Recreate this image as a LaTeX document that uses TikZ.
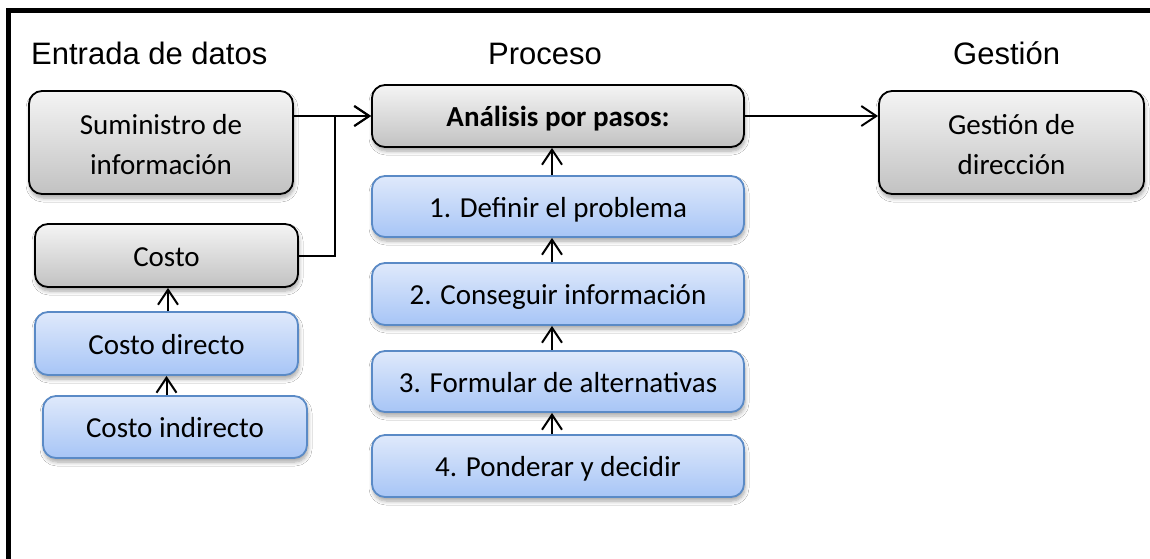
\documentclass[tikz,border=0pt]{standalone}
\usepackage{fontspec}
\setmainfont{Carlito}
\newfontfamily\headfont{Liberation Sans}
\usetikzlibrary{shadows,shadows.blur,arrows.meta}
\definecolor{graytop}{HTML}{F4F4F4}
\definecolor{graybot}{HTML}{C2C2C2}
\definecolor{bluetop}{HTML}{DFE9FB}
\definecolor{bluebot}{HTML}{A7C5F6}
\definecolor{blueline}{HTML}{5A8AC6}
\newcommand{\boxstrut}{\rule[-9pt]{0pt}{39pt}}
\newcommand{\twolines}[2]{\begin{tabular}{@{}c@{}}\rule{0pt}{35pt}#1\\#2\end{tabular}}
\tikzset{
  boxbase/.style={rounded corners=13pt, inner sep=0pt,
    font=\fontsize{29}{40}\selectfont,
    blur shadow={shadow xshift=1pt, shadow yshift=-4pt, shadow blur steps=6, shadow blur radius=4pt, shadow opacity=35}},
  oneline/.style={execute at begin node=\boxstrut, execute at end node=\boxstrut},
  graybox/.style={boxbase, draw=black, line width=1.8pt, top color=graytop, bottom color=graybot},
  bluebox/.style={boxbase, oneline, draw=blueline, line width=1.8pt, top color=bluetop, bottom color=bluebot},
  header/.style={font=\headfont\fontsize{31}{36}\selectfont, anchor=base west, inner sep=0pt},
  arr/.style={line width=2pt, -{Straight Barb[length=15pt,width=20pt,line width=2pt]}},
  frameline/.style={line width=5pt, line join=miter}
}
\begin{document}
\begin{tikzpicture}[x=1pt,y=-1pt]
\useasboundingbox[fill=white] (0,0) rectangle (1150,558);
\draw[frameline] (8,560) -- (8,10.5) -- (1152,10.5);

\node[header] (h1) at (31,64) {Entrada de datos};
\node[header] (h2) at (488,64) {Proceso};
\node[header] (h3) at (953,64) {Gestión};

\node[graybox, minimum width=264pt, minimum height=103pt] (sum) at (161,142.5) {\twolines{Suministro de}{información}};
\node[graybox, oneline, minimum width=263pt, minimum height=63pt] (costo) at (166.5,255.5) {Costo};
\node[bluebox, minimum width=263pt, minimum height=63pt] (dir) at (166.5,343.5) {Costo directo};
\node[bluebox, minimum width=264pt, minimum height=62pt] (ind) at (175,427) {Costo indirecto};

\node[graybox, oneline, minimum width=372pt, minimum height=62pt, font=\fontsize{29}{40}\selectfont\bfseries] (ana) at (558,116) {Análisis por pasos:};
\node[bluebox, minimum width=372pt, minimum height=61pt] (p1) at (558,206.5) {1. Definir el problema};
\node[bluebox, minimum width=372pt, minimum height=62pt] (p2) at (558,294) {2. Conseguir información};
\node[bluebox, minimum width=372pt, minimum height=61pt] (p3) at (558,381.5) {3. Formular de alternativas};
\node[bluebox, minimum width=372pt, minimum height=62pt] (p4) at (558,466) {4. Ponderar y decidir};

\node[graybox, minimum width=265pt, minimum height=103pt] (ges) at (1011.5,142.5) {\twolines{Gestión de}{dirección}};

\draw[arr] (sum.east |- ana.west) -- (ana.west);
\draw[arr] (costo.east) -- ++(36,0) |- (ana.west);
\draw[arr] (ana.east) -- (ana.east -| ges.west);

\draw[arr] ([xshift=-6pt]p1.north) -- ([xshift=-6pt]ana.south);
\draw[arr] ([xshift=-6pt]p2.north) -- ([xshift=-6pt]p1.south);
\draw[arr] ([xshift=-6pt]p3.north) -- ([xshift=-6pt]p2.south);
\draw[arr] ([xshift=-6pt]p4.north) -- ([xshift=-6pt]p3.south);

\draw[arr] ([xshift=1.5pt]dir.north) -- ([xshift=1.5pt]costo.south);
\draw[arr] (ind.north -| dir.south) -- (dir.south);
\end{tikzpicture}
\end{document}
